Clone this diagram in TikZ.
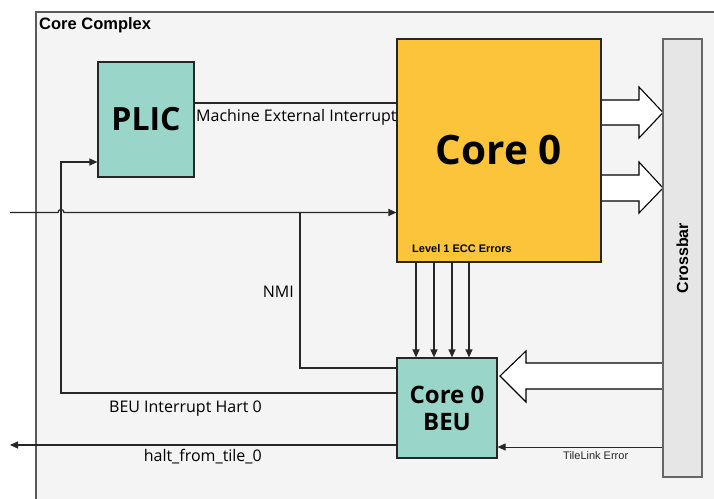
\documentclass[tikz,border=0pt]{standalone}
\usepackage{fontspec}
\setmainfont{Open Sans}
\newfontfamily\arialf{Liberation Sans}
\usetikzlibrary{arrows.meta,calc}
\definecolor{bgc}{HTML}{F4F4F4}
\definecolor{corec}{HTML}{FBC43A}
\definecolor{tealc}{HTML}{9AD5CA}
\definecolor{xbarc}{HTML}{E6E6E6}
\definecolor{linec}{HTML}{262626}
\tikzset{
  box/.style={draw=linec,line width=1.2pt,inner sep=0pt,font=\bfseries},
  wire/.style={draw=linec,line width=1.2pt},
  arr/.style={wire,-{Triangle[length=8pt,width=7pt]}},
  blk/.style={draw=black,line width=1.1pt,fill=white,line join=miter},
  lbl/.style={inner sep=0pt,font=\fontsize{16}{19}\selectfont}
}
\begin{document}
\begin{tikzpicture}[x=1pt,y=-1pt]
\useasboundingbox (0,0) rectangle (714,498);
\fill[white] (0,0) rectangle (714,498);
% Core complex region
\begin{scope}
\clip (0,0) rectangle (714,498);
\draw[fill=bgc,draw=black!65,line width=2pt] (36,12) rectangle (730,520);
\end{scope}
\node[inner sep=0pt,anchor=base west,font=\arialf\bfseries\fontsize{16.5}{19}\selectfont] (cclbl) at (39,29) {Core Complex};

% block arrows
\draw[blk] (595,100) -- (639,100) -- (639,87) -- (663,112.5) -- (639,138) -- (639,125) -- (595,125);
\draw[blk] (595,175) -- (639,175) -- (639,162) -- (663,188) -- (639,213) -- (639,201) -- (595,201);
\draw[blk] (663,363) -- (526,363) -- (526,351) -- (500,376) -- (526,402) -- (526,389) -- (663,389);

% nodes
\node[box,fill=tealc,minimum width=96pt,minimum height=115pt,font=\bfseries\fontsize{32}{36}\selectfont] (plic) at (146,119.5) {PLIC};
\node[box,fill=corec,minimum width=204pt,minimum height=223pt,font=\bfseries\fontsize{40.5}{44}\selectfont] (core) at (499,150.5) {Core 0};
\node[box,fill=tealc,minimum width=100pt,minimum height=100pt,align=center,font=\bfseries\fontsize{24}{27}\selectfont] (beu) at (447,408) {Core 0\\BEU};
\node[box,fill=xbarc,draw=black!60,minimum width=39pt,minimum height=438pt] (xbar) at (682.5,258) {};
\node[rotate=90,inner sep=0pt,font=\arialf\bfseries\fontsize{16}{19}\selectfont] (xbarlbl) at (xbar.center) {Crossbar};

\node[inner sep=0pt,anchor=base west,font=\arialf\bfseries\fontsize{11}{13}\selectfont] (ecc) at (412,252) {Level 1 ECC Errors};

% coordinates
\coordinate (inL) at (10,212.5);
\coordinate (haltL) at (10,445);

% Machine External Interrupt
\draw[wire] (plic.east |- 0,103) -- (core.west |- 0,103);
\node[lbl,anchor=base west] (meilbl) at (196,121) {Machine External Interrupt};

% input line with hop, NMI branch
\draw[arr] (inL) -- (58,212.5) .. controls (58,208.5) and (64,208.5) .. (64,212.5) -- (core.west |- 0,212.5);
\draw[wire] (300,212.5) -- (300,368) -- (beu.west |- 0,368);
\node[lbl,anchor=base east] (nmilbl) at (294,297) {NMI};

% BEU interrupt to PLIC
\draw[arr] (beu.west |- 0,393) -- (61,393) -- (61,162) -- (plic.west |- 0,162);
\node[lbl,anchor=base east] (beuint) at (262,412) {BEU Interrupt Hart 0};

% halt
\draw[arr] (beu.west |- 0,445) -- (haltL);
\node[lbl,anchor=base east] (haltlbl) at (262,461.5) {halt\_from\_tile\_0};

% ECC arrows
\foreach \x in {416,434,452,469}
  \draw[arr] (core.south -| \x,0) -- (beu.north -| \x,0);

% TileLink error
\draw[arr,line width=1pt] (xbar.west |- 0,447) -- (beu.east |- 0,447);
\node[inner sep=0pt,anchor=base west,font=\arialf\fontsize{11}{13}\selectfont,text=black!85] (tle) at (563,459) {TileLink Error};
\end{tikzpicture}
\end{document}
